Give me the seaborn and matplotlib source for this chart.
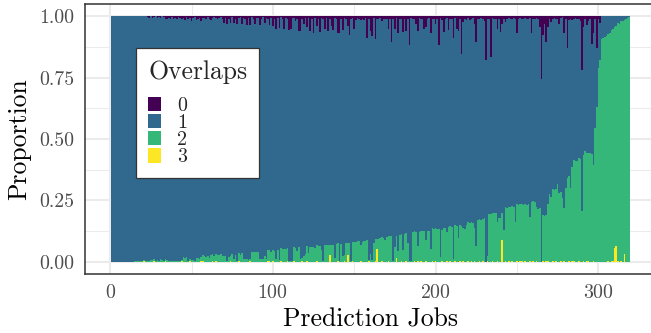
import numpy as np
import pandas as pd
import matplotlib
matplotlib.use("Agg")
import matplotlib.pyplot as plt
from matplotlib.patches import Patch
import seaborn as sns

# ---- data: proportion of each overlap level per prediction job ----
p0 = [  # overlaps = 0 (top, purple)
    0,0,0,0,0,0,0,0,0,0,
    0,0,0,0,0,0,0,0,0,0,
    0,0,0.004,0.006,0,0.005,0.003,0,0.008,0.004,
    0.006,0,0.004,0.010,0.012,0.006,0.012,0.004,0.010,0.005,
    0.012,0.003,0.006,0.010,0.008,0.016,0.004,0.012,0.006,0.018,
    0.008,0.004,0.014,0.010,0.005,0.020,0.008,0.006,0.012,0.004,
    0.010,0.016,0.006,0.004,0.008,0.012,0.005,0.004,0.010,0.028,
    0.006,0.030,0.012,0.028,0.004,0.026,0.010,0.030,0.006,0.004,
    0.030,0.008,0.012,0.034,0.006,0.036,0.004,0.010,0.032,0.008,
    0.006,0.036,0.012,0.004,0.028,0.008,0.010,0.034,0.006,0.040,
    0.012,0.050,0.008,0.046,0.004,0.010,0.052,0.006,0.012,0.057,
    0.050,0.008,0.006,0.020,0.010,0.060,0.058,0.012,0.030,0.008,
    0.045,0.006,0.060,0.012,0.070,0.008,0.040,0.010,0.065,0.006,
    0.012,0.050,0.008,0.060,0.010,0.040,0.054,0.008,0.012,0.070,
    0.070,0.010,0.054,0.006,0.012,0.040,0.077,0.010,0.008,0.050,
    0.014,0.006,0.010,0.014,0.012,0.014,0.008,0.087,0.010,0.061,
    0.081,0.006,0.091,0.010,0.012,0.008,0.020,0.012,0.010,0.010,
    0.050,0.012,0.104,0.010,0.050,0.008,0.068,0.010,0.012,0.064,
    0.010,0.060,0.012,0.115,0.008,0.010,0.012,0.030,0.060,0.008,
    0.012,0.010,0.050,0.044,0.010,0.008,0.068,0.012,0.010,0.030,
    0.010,0.115,0.008,0.016,0.063,0.010,0.008,0.057,0.012,0.010,
    0.090,0.008,0.050,0.060,0.012,0.152,0.023,0.010,0.016,0.008,
    0.016,0.010,0.008,0.030,0.104,0.012,0.010,0.008,0.012,0.020,
    0.180,0.010,0.012,0.165,0.008,0.010,0.012,0.050,0.010,0.064,
    0.030,0.012,0.023,0.010,0.008,0.012,0.010,0.008,0.012,0.070,
    0.010,0.008,0.012,0.010,0.008,0.012,0.010,0.008,0.070,0.010,
    0.012,0.008,0.010,0.043,0.257,0.078,0.030,0.104,0.043,0.012,
    0.023,0.010,0.008,0.012,0.010,0.030,0.008,0.003,0.070,0.010,
    0.130,0.016,0.010,0.016,0.010,0.008,0.012,0.010,0.020,0.220,
    0.043,0.010,0.037,0.020,0.012,0.111,0.070,0.012,0.130,0.010,
    0.027,0,0,0,0,0,0,0,0,0,
    0,0,0,0,0,0,0,0,0,
]
p2 = [  # overlaps = 2 (green)
    0,0,0,0,0,0,0,0,0,0,
    0,0,0,0,0.004,0.004,0.003,0.004,0.002,0.003,
    0.003,0.002,0.004,0.003,0.006,0.006,0.007,0.005,0.006,0.004,
    0.010,0.006,0.005,0.008,0.006,0.004,0.004,0.003,0.004,0.002,
    0.003,0.002,0.004,0.003,0.018,0.017,0.018,0.004,0.006,0.009,
    0.006,0.004,0.015,0.016,0.013,0.014,0.022,0.022,0.020,0.022,
    0.017,0.026,0.026,0.025,0.026,0.027,0.026,0.030,0.022,0.024,
    0.022,0.004,0.021,0.020,0.030,0.012,0.028,0.004,0.030,0.028,
    0.034,0.010,0.012,0.011,0.008,0.006,0.038,0.038,0.039,0.038,
    0.038,0.011,0.013,0.010,0.024,0.012,0.042,0.042,0.041,0.042,
    0.043,0.012,0.046,0.006,0.052,0.053,0.052,0.052,0.053,0.004,
    0.004,0.003,0.057,0.057,0.042,0.061,0.012,0.012,0.025,0.030,
    0.061,0.037,0.061,0.061,0.060,0.057,0.065,0.065,0.065,0.049,
    0.005,0.069,0.069,0.069,0.041,0.069,0.069,0.016,0.073,0.073,
    0.005,0.073,0.024,0.024,0.077,0.049,0.077,0.005,0.077,0.081,
    0.081,0.085,0.085,0.065,0.081,0.085,0.085,0.089,0.005,0.033,
    0.008,0.077,0.089,0.043,0.093,0.098,0.098,0.098,0.087,0.102,
    0.102,0.106,0.106,0.005,0.061,0.090,0.045,0.110,0.110,0.049,
    0.114,0.114,0.077,0.005,0.005,0.122,0.122,0.122,0.060,0.122,
    0.122,0.126,0.126,0.085,0.126,0.126,0.050,0.134,0.134,0.134,
    0.134,0.134,0.020,0.126,0.138,0.138,0.118,0.142,0.142,0.142,
    0.010,0.146,0.146,0.095,0.146,0.146,0.133,0.133,0.150,0.157,
    0.157,0.157,0.157,0.135,0.065,0.171,0.171,0.171,0.171,0.178,
    0.0,0.020,0.195,0.195,0.195,0.197,0.200,0.158,0.178,0.180,
    0.110,0.130,0.218,0.218,0.220,0.222,0.225,0.225,0.160,0.230,
    0.230,0.230,0.232,0.232,0.232,0.232,0.235,0.180,0.242,0.242,
    0.245,0.218,0.213,0.218,0.0,0.185,0.185,0.185,0.230,0.276,
    0.265,0.293,0.293,0.293,0.317,0.280,0.280,0.260,0.214,0.300,
    0.340,0.347,0.300,0.380,0.410,0.410,0.410,0.420,0.420,0.205,
    0.430,0.450,0.440,0.440,0.445,0.440,0.390,0.545,0.630,0.790,
    0.820,0.906,0.910,0.915,0.920,0.925,0.930,0.940,0.943,0.899,
    0.894,0.967,0.970,0.975,0.980,0.952,0.990,0.995,0.998,
]
p3 = [  # overlaps = 3 (yellow, bottom)
    0,0,0,0,0,0,0,0,0,0,
    0,0,0,0,0,0,0,0,0,0,
    0.003,0,0,0,0,0,0.003,0,0,0,
    0,0,0,0.003,0,0,0,0,0,0,
    0,0,0,0.003,0,0,0,0,0.004,0,
    0,0,0,0,0,0.004,0.004,0,0,0,
    0,0,0.004,0,0.004,0,0,0,0,0,
    0,0,0,0.005,0,0,0,0,0.004,0,
    0,0,0,0,0,0.004,0,0,0,0,
    0,0,0,0,0,0,0.005,0.005,0,0.004,
    0,0,0,0,0.005,0,0,0,0.004,0,
    0,0,0.004,0,0,0,0,0.004,0,0,
    0.004,0,0,0,0,0,0.004,0,0,0,
    0,0,0,0,0.028,0,0,0,0,0.004,
    0,0,0,0.004,0,0.028,0,0,0.004,0,
    0,0,0,0.004,0,0,0,0,0.004,0,
    0,0,0.004,0.050,0,0,0.004,0,0,0,
    0.004,0,0,0,0,0.016,0,0,0.004,0,
    0,0.004,0,0,0,0,0.004,0,0.004,0,
    0.004,0,0,0.004,0,0,0,0.004,0,0.004,
    0,0,0,0.004,0,0,0.004,0,0.004,0,
    0,0.004,0,0,0.004,0,0.004,0,0,0.004,
    0,0.004,0,0.004,0,0,0.004,0,0.004,0,
    0,0.004,0,0,0.004,0,0,0.004,0,0,
    0.090,0,0.004,0,0.004,0,0.004,0,0,0.004,
    0,0.004,0.004,0,0.004,0,0,0.004,0,0.004,
    0,0.004,0,0,0,0.004,0,0.004,0.004,0,
    0,0.004,0,0.004,0,0,0.004,0,0.004,0,
    0,0.004,0,0.004,0.004,0,0,0.004,0,0,
    0.004,0,0.004,0.004,0,0,0.004,0,0,0,
    0,0,0,0,0,0.004,0,0.004,0.004,0.056,
    0.066,0.004,0,0.004,0,0.033,0,0,0,
]
jobs = list(range(1, len(p2) + 1))
p1 = [1.0 - a - b - c for a, b, c in zip(p0, p2, p3)]  # remainder: overlaps = 1
levels = ["0", "1", "2", "3"]
colors = ["#440154", "#31688E", "#35B779", "#FDE725"]

rows = []
for lvl, vals in zip(levels, [p0, p1, p2, p3]):
    for j, v in zip(jobs, vals):
        rows.append((j, lvl, max(v, 0.0)))
df = pd.DataFrame(rows, columns=["job", "overlap", "prop"])

# ---- style ----
sns.set_theme(style="white")
plt.rcParams["font.family"] = ["cmr10", "DejaVu Serif"]
plt.rcParams["mathtext.fontset"] = "cm"
plt.rcParams["axes.unicode_minus"] = False
plt.rcParams["axes.formatter.use_mathtext"] = True

W, H = 651, 333
fig = plt.figure(figsize=(W / 100, H / 100), dpi=100)
L, R, T, B = 85, 656, 4, 274
ax = fig.add_axes([L / W, 1 - B / H, (R - L) / W, (B - T) / H])

sns.histplot(data=df, x="job", weights="prop", hue="overlap", hue_order=levels,
             multiple="fill", discrete=True, shrink=1, palette=colors,
             alpha=1, linewidth=0, legend=False, ax=ax, zorder=2)

ax.set_xlim(-15.45, 335.45)
ax.set_ylim(-0.05, 1.05)
ax.set_xticks([0, 100, 200, 300])
ax.set_xticks([50, 150, 250], minor=True)
ax.set_yticks([0, 0.25, 0.5, 0.75, 1.0])
ax.set_yticklabels(["0.00", "0.25", "0.50", "0.75", "1.00"])
ax.set_yticks([0.125, 0.375, 0.625, 0.875], minor=True)
ax.set_axisbelow(True)
ax.grid(True, which="major", color="#EBEBEB", linewidth=1.5)
ax.grid(True, which="minor", color="#EBEBEB", linewidth=0.75)
for s in ax.spines.values():
    s.set_color("#333333")
    s.set_linewidth(1.1)
ax.tick_params(axis="both", which="major", direction="out", length=4.5, width=1.1,
               color="#333333", labelcolor="#4D4D4D", labelsize=14.3, pad=3)
ax.tick_params(axis="both", which="minor", length=0)
ax.set_xlabel("Prediction Jobs", fontsize=18.5, color="black", labelpad=4)
ax.set_ylabel("Proportion", fontsize=18.5, color="black", labelpad=6)

handles = [Patch(facecolor=c, edgecolor="none") for c in colors]
leg = ax.legend(handles, levels, title="Overlaps", loc="upper left",
                bbox_to_anchor=((136 - L) / (R - L), 1 - (48 - T) / (B - T)),
                frameon=True, fancybox=False, fontsize=14.4, title_fontsize=18.5,
                handlelength=0.65, handleheight=0.72, handletextpad=0.8,
                labelspacing=-0.05, borderpad=0.6, borderaxespad=0,
                facecolor="white", framealpha=1)
leg.get_frame().set_edgecolor("#333333")
leg.get_frame().set_linewidth(0.9)
leg._legend_box.align = "left"
leg._legend_box.sep = 9.5

fig.savefig("out.png", dpi=100)
